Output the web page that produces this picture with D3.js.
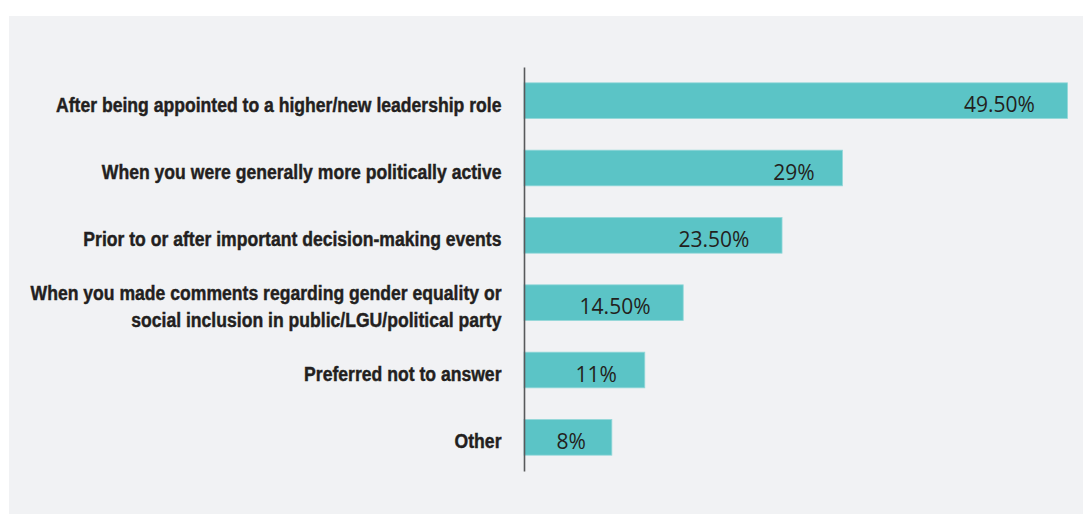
<!DOCTYPE html>
<html>
<head>
<meta charset="utf-8">
<script src="https://cdn.jsdelivr.net/npm/d3@7"></script>
<style>
  html, body { margin: 0; padding: 0; background: #ffffff; }
  svg { display: block; }
</style>
</head>
<body>
<svg id="chart" width="1083" height="514"></svg>
<script>
// Moments when respondents experienced it (share of respondents, %)
const categories = [
  "After being appointed to a higher/new leadership role",
  "When you were generally more politically active",
  "Prior to or after important decision-making events",
  "When you made comments regarding gender equality or\nsocial inclusion in public/LGU/political party",
  "Preferred not to answer",
  "Other"
];
const values = [49.5, 29, 23.5, 14.5, 11, 8];

const W = 1083, H = 514;
const svg = d3.select("#chart");

// light grey panel behind the chart
svg.append("rect")
  .attr("x", 9).attr("y", 16)
  .attr("width", W - 9).attr("height", H - 16)
  .attr("fill", "#f1f2f4");

const x = d3.scaleLinear().domain([0, 50]).range([524, 1073]);
const y = d3.scaleBand()
  .domain(categories)
  .range([67, 471])
  .paddingInner(0.47)
  .paddingOuter(0.235);

const rows = categories.map((c, i) => ({ c, v: values[i] }));

// bars
svg.append("g").selectAll("rect")
  .data(rows)
  .join("rect")
  .attr("x", x(0))
  .attr("y", d => y(d.c))
  .attr("width", d => x(d.v) - x(0))
  .attr("height", y.bandwidth())
  .attr("fill", "#5bc4c6")
  .attr("stroke", "#94d8d9")
  .attr("stroke-width", 0.8);

// category axis
const labelGap = 22.5;
const axis = svg.append("g")
  .attr("transform", `translate(${x(0)},0)`)
  .call(d3.axisLeft(y).tickSize(0).tickPadding(labelGap));

axis.select(".domain")
  .attr("stroke", "#58595b")
  .attr("stroke-width", 1.6);

// condensed heavy labels, right-aligned next to the axis
const lineGap = 27;
axis.selectAll(".tick text")
  .attr("fill", "#231f20")
  .attr("stroke", "#231f20")
  .attr("stroke-width", 0.45)
  .style("font-family", "'Liberation Sans', Arial, sans-serif")
  .style("font-weight", "bold")
  .style("font-size", "20.5px")
  .attr("dy", null)
  .attr("x", null)
  .attr("y", null)
  .attr("transform", `translate(${-labelGap},0) scale(0.858,1)`)
  .each(function (d) {
    const lines = d.split("\n");
    const t = d3.select(this).text(null);
    lines.forEach((ln, i) => {
      t.append("tspan")
        .attr("x", 0)
        .attr("y", 11 + (i - (lines.length - 1) / 2) * lineGap)
        .text(ln);
    });
  });

// value labels just inside the end of each bar
const fmt = v => Number.isInteger(v) ? v + "%" : v.toFixed(2) + "%";
svg.append("g").selectAll("text")
  .data(rows)
  .join("text")
  .attr("y", d => y(d.c) + y.bandwidth() / 2 + 11.5)
  .attr("text-anchor", "end")
  .attr("fill", "#231f20")
  .style("font-family", "'Open Sans', sans-serif")
  .style("font-size", "21px")
  .text(d => fmt(d.v))
  .attr("x", function (d) {
    const w = this.getComputedTextLength();
    return x(d.v) - 21 - 0.165 * w;
  });
</script>
</body>
</html>
